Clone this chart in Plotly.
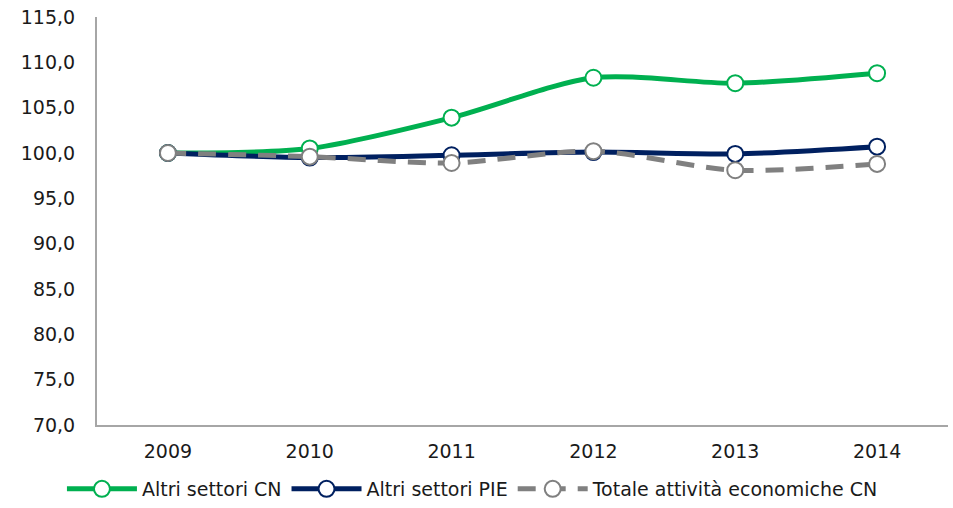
import plotly.graph_objects as go

years = ["2009", "2010", "2011", "2012", "2013", "2014"]
altri_cn = [100.0, 100.5, 103.9, 108.3, 107.7, 108.8]
altri_pie = [100.0, 99.5, 99.75, 100.1, 99.9, 100.7]
totale_cn = [100.0, 99.6, 98.9, 100.2, 98.1, 98.8]
y_ticks = [70, 75, 80, 85, 90, 95, 100, 105, 110, 115]

series = [
    ("Altri settori CN", altri_cn, "#00B050", "solid"),
    ("Altri settori PIE", altri_pie, "#002060", "solid"),
    ("Totale attività economiche CN", totale_cn, "#808080", "18px,12px"),
]

fig = go.Figure()
for name, vals, color, dash in series:
    fig.add_trace(go.Scatter(
        x=years, y=vals, name=name, mode="lines+markers",
        line=dict(color=color, width=5, shape="spline", smoothing=0.8, dash=dash),
        marker=dict(symbol="circle", size=16, color="white",
                    line=dict(color=color, width=2)),
    ))

fig.update_layout(
    width=953, height=508,
    margin=dict(l=97, r=5, t=17, b=83, autoexpand=False),
    paper_bgcolor="white", plot_bgcolor="white",
    separators=",.",
    font=dict(family="DejaVu Sans", size=19, color="#1a1a1a"),
    showlegend=True,
    legend=dict(orientation="h", x=0.065, xanchor="left", xref="container",
                y=0.0, yanchor="bottom", yref="container",
                font=dict(family="DejaVu Sans", size=19),
                itemwidth=70, tracegroupgap=0),
    xaxis=dict(type="category", showgrid=False, showline=True, linecolor="#A6A6A6",
               linewidth=2, ticks="", range=[-0.5, 5.5], ticklabelstandoff=8,
               tickfont=dict(family="DejaVu Sans", size=19)),
    yaxis=dict(range=[70, 115], tickvals=y_ticks, tickformat=".1f", showgrid=False,
               showline=True, linecolor="#A6A6A6", linewidth=2, ticks="",
               ticklabelstandoff=16, zeroline=False,
               tickfont=dict(family="DejaVu Sans", size=19)),
)

fig.write_html("out.html")
